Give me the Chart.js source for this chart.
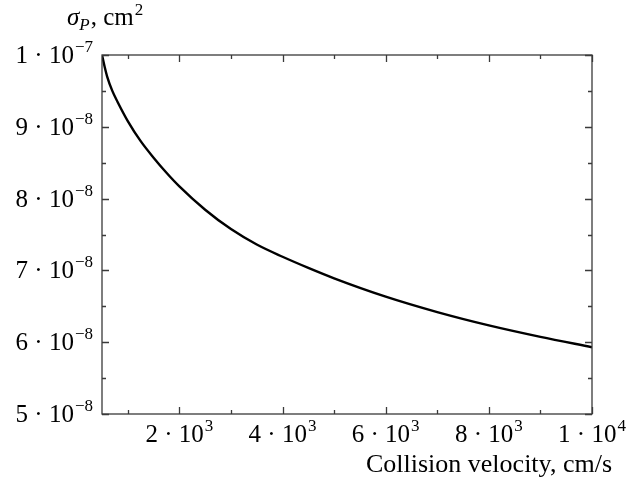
<!DOCTYPE html>
<html>
<head>
<meta charset="utf-8">
<script src="https://cdn.jsdelivr.net/npm/chart.js@4/dist/chart.umd.min.js"></script>
<style>
  html, body { margin: 0; padding: 0; background: #fff; }
  #wrap { width: 637px; height: 484px; }
</style>
</head>
<body>
<div id="wrap"><canvas id="c" width="637" height="484"></canvas></div>
<script>
// sigma_P vs collision velocity
const velocity = [500, 550, 600, 700, 800, 1000, 1250, 1500, 1750, 2000, 2500,
                  3000, 3500, 4000, 4500, 5000, 6000, 7000, 8000, 9000, 10000];
const sigmaP = [10.00e-8, 9.84e-8, 9.70e-8, 9.50e-8, 9.35e-8, 9.08e-8, 8.80e-8,
                8.57e-8, 8.36e-8, 8.17e-8, 7.845e-8, 7.575e-8, 7.36e-8, 7.19e-8,
                7.035e-8, 6.89e-8, 6.635e-8, 6.42e-8, 6.235e-8, 6.075e-8, 5.93e-8];

// tick labels: [value, mantissa, exponent]
const xMajor = [[2000, '2', '3'], [4000, '4', '3'], [6000, '6', '3'],
                [8000, '8', '3'], [10000, '1', '4']];
const xMinor = [1000, 3000, 5000, 7000, 9000];
const yMajor = [[5e-8, '5', '−8'], [6e-8, '6', '−8'], [7e-8, '7', '−8'],
                [8e-8, '8', '−8'], [9e-8, '9', '−8'], [1e-7, '1', '−7']];
const yMinor = [5.5e-8, 6.5e-8, 7.5e-8, 8.5e-8, 9.5e-8];

const FONT = '"Liberation Serif", "DejaVu Serif", serif';

// draw "m · 10^e" ; align = 'right' or 'center'
function drawPow(ctx, mant, exp, x, y, align) {
    const base = '25px ' + FONT, sup = '17px ' + FONT;
    ctx.font = base;
    const t1 = mant + ' · 10';
    const w1 = ctx.measureText(t1).width;
    ctx.font = sup;
    const w2 = ctx.measureText(exp).width;
    const w = w1 + 1 + w2;
    const x0 = align === 'right' ? x - w : x - w / 2;
    ctx.textAlign = 'left';
    ctx.textBaseline = 'alphabetic';
    ctx.font = base;
    ctx.fillText(t1, x0, y);
    ctx.font = sup;
    ctx.fillText(exp, x0 + w1 + 1, y - 11);
}

const framePlugin = {
    id: 'frame',
    afterDraw: function (chart) {
        const ctx = chart.ctx;
        const a = chart.chartArea;
        const xs = chart.scales.x, ys = chart.scales.y;
        ctx.save();
        ctx.strokeStyle = '#3a3a3a';
        ctx.lineWidth = 1.3;
        ctx.strokeRect(a.left, a.top, a.right - a.left, a.bottom - a.top);
        ctx.beginPath();
        function xt(v, len) {
            const px = Math.round(xs.getPixelForValue(v)) + 0.5;
            ctx.moveTo(px, a.bottom); ctx.lineTo(px, a.bottom - len);
            ctx.moveTo(px, a.top); ctx.lineTo(px, a.top + len);
        }
        function yt(v, len) {
            const py = Math.round(ys.getPixelForValue(v)) + 0.5;
            ctx.moveTo(a.left, py); ctx.lineTo(a.left + len, py);
            ctx.moveTo(a.right, py); ctx.lineTo(a.right - len, py);
        }
        xMajor.forEach(function (t) { xt(t[0], 7); });
        xMinor.forEach(function (v) { xt(v, 4); });
        yMajor.forEach(function (t) { yt(t[0], 7); });
        yMinor.forEach(function (v) { yt(v, 4); });
        ctx.stroke();

        ctx.fillStyle = '#000';
        xMajor.forEach(function (t) {
            drawPow(ctx, t[1], t[2], xs.getPixelForValue(t[0]), a.bottom + 28, 'center');
        });
        yMajor.forEach(function (t) {
            drawPow(ctx, t[1], t[2], a.left - 9, ys.getPixelForValue(t[0]) + 8, 'right');
        });

        // axis titles
        ctx.textBaseline = 'alphabetic';
        ctx.font = '26px ' + FONT;
        ctx.textAlign = 'right';
        ctx.fillText('Collision velocity, cm/s', a.right + 20, a.bottom + 58);

        ctx.textAlign = 'left';
        let x = 67, y = 25;
        ctx.font = 'italic 25px ' + FONT;
        ctx.fillText('σ', x, y);
        x += ctx.measureText('σ').width;
        ctx.font = 'italic 17px ' + FONT;
        ctx.fillText('P', x, y + 5);
        x += ctx.measureText('P').width + 1;
        ctx.font = '25px ' + FONT;
        ctx.fillText(', cm', x, y);
        x += ctx.measureText(', cm').width + 1;
        ctx.font = '17px ' + FONT;
        ctx.fillText('2', x, y - 10);
        ctx.restore();
    }
};

new Chart(document.getElementById('c').getContext('2d'), {
    type: 'line',
    data: {
        datasets: [{
            data: velocity.map(function (v, i) { return { x: v, y: sigmaP[i] }; }),
            borderColor: '#000',
            borderWidth: 2.4,
            pointRadius: 0,
            cubicInterpolationMode: 'monotone',
            fill: false
        }]
    },
    options: {
        responsive: false,
        animation: false,
        events: [],
        layout: { padding: { top: 55, right: 45, left: 0, bottom: 0 } },
        plugins: { legend: { display: false }, tooltip: { enabled: false } },
        scales: {
            x: {
                type: 'linear', min: 500, max: 10000,
                grid: { display: false }, border: { display: false },
                ticks: { display: false },
                afterFit: function (s) { s.height = 70; }
            },
            y: {
                type: 'linear', min: 5e-8, max: 1e-7,
                grid: { display: false }, border: { display: false },
                ticks: { display: false },
                afterFit: function (s) { s.width = 102; }
            }
        }
    },
    plugins: [framePlugin]
});
</script>
</body>
</html>
